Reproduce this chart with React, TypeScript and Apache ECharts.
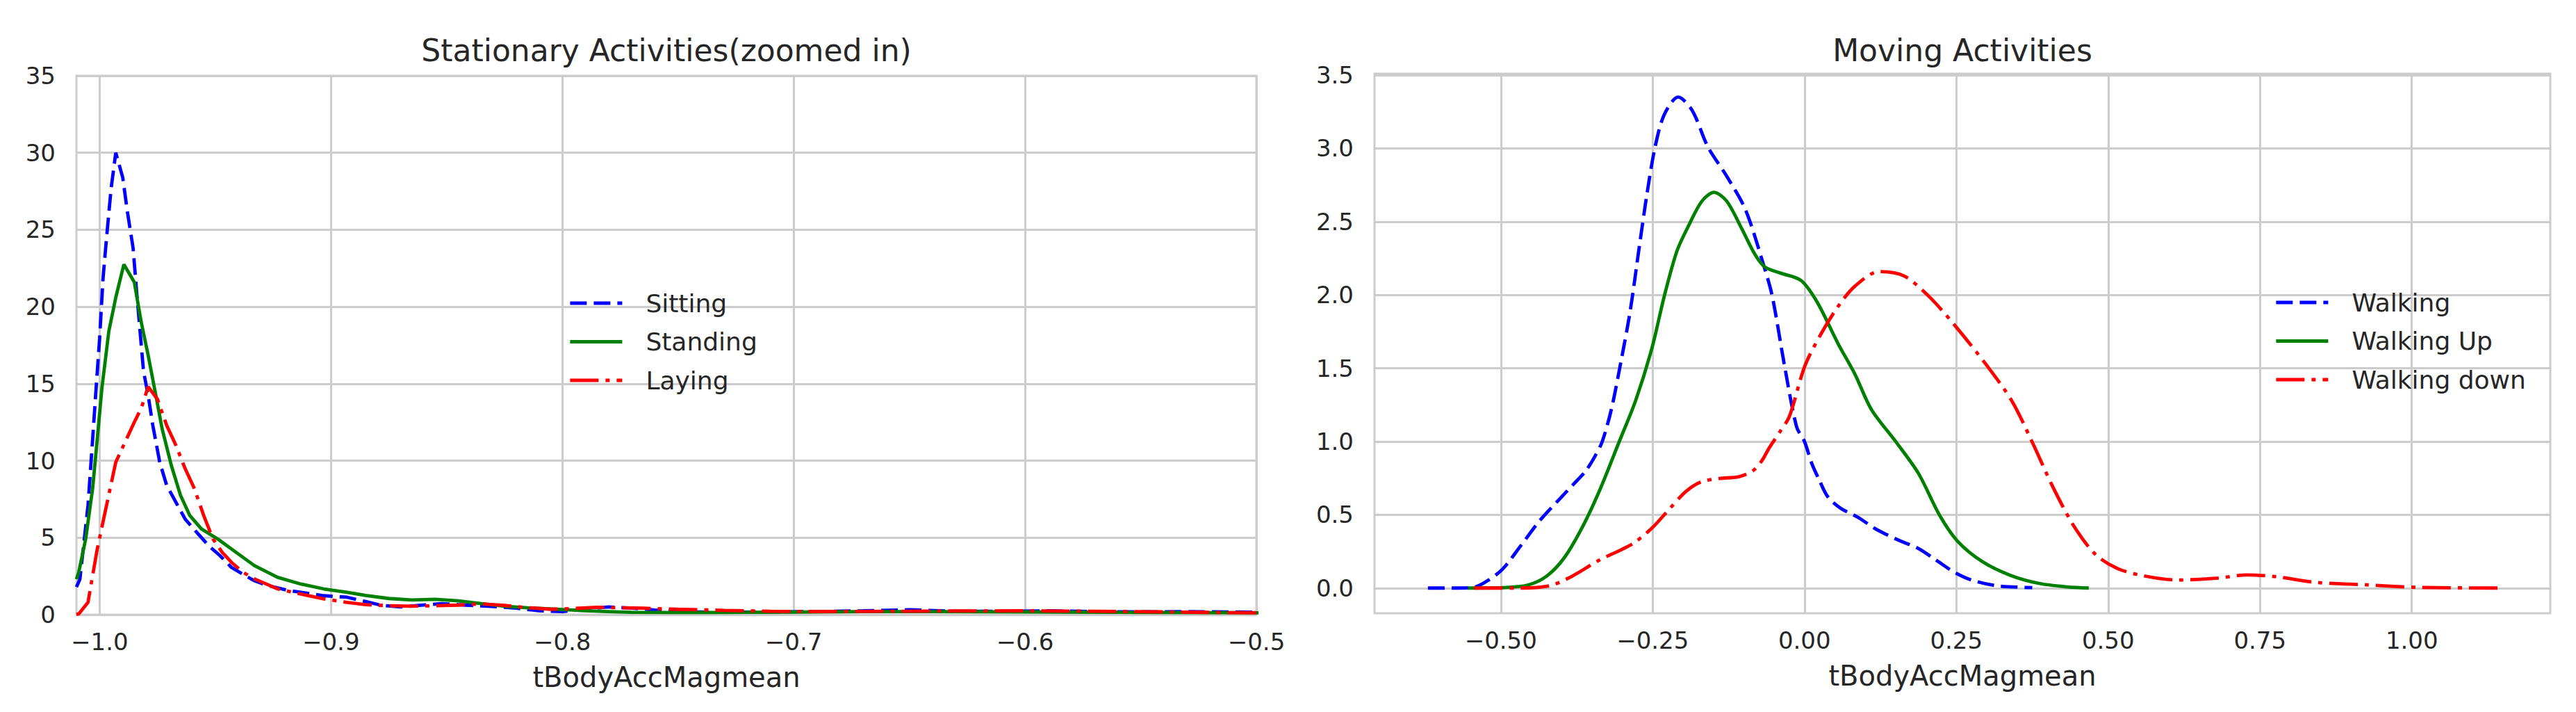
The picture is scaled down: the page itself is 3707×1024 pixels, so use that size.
import React, { useEffect, useRef } from "react";
import * as echarts from "echarts";

// ---------- data ----------
const stationaryNames = ["Sitting", "Standing", "Laying"];
const movingNames = ["Walking", "Walking Up", "Walking down"];

const sitting: [number, number][] = [
  [-1.01, 1.8], [-1.0085, 2.3], [-1.005, 7.1], [-1.003, 11.4], [-1.0015, 14.7], [-1.0, 17.9],
  [-0.9985, 21.85], [-0.997, 24.45], [-0.995, 27.7], [-0.993, 30.0], [-0.99, 28.4], [-0.988, 26.2],
  [-0.9855, 23.8], [-0.984, 21.0], [-0.9825, 18.4], [-0.981, 15.8], [-0.979, 14.25], [-0.977, 12.3],
  [-0.974, 9.9], [-0.971, 8.4], [-0.967, 7.3], [-0.963, 6.2], [-0.958, 5.35], [-0.953, 4.5],
  [-0.948, 3.84], [-0.943, 3.07], [-0.937, 2.53], [-0.933, 2.2], [-0.927, 1.88], [-0.918, 1.56],
  [-0.903, 1.23], [-0.893, 1.13], [-0.885, 0.85], [-0.878, 0.6], [-0.87, 0.5], [-0.862, 0.6],
  [-0.852, 0.72], [-0.842, 0.62], [-0.832, 0.55], [-0.82, 0.42], [-0.81, 0.25], [-0.8, 0.2],
  [-0.79, 0.35], [-0.78, 0.5], [-0.77, 0.42], [-0.76, 0.3], [-0.75, 0.2], [-0.73, 0.15],
  [-0.71, 0.18], [-0.69, 0.2], [-0.67, 0.25], [-0.65, 0.32], [-0.63, 0.22], [-0.61, 0.22],
  [-0.59, 0.25], [-0.57, 0.2], [-0.55, 0.18], [-0.53, 0.2], [-0.51, 0.17], [-0.49, 0.15],
];

const standing: [number, number][] = [
  [-1.01, 2.3], [-1.009, 2.75], [-1.006, 4.92], [-1.003, 8.2], [-1.001, 11.4], [-0.999, 14.7],
  [-0.996, 18.4], [-0.993, 20.6], [-0.9895, 22.75], [-0.985, 21.6], [-0.982, 19.0], [-0.979, 16.85],
  [-0.976, 14.5], [-0.973, 12.1], [-0.969, 9.7], [-0.965, 7.74], [-0.961, 6.44], [-0.956, 5.57],
  [-0.949, 4.92], [-0.941, 4.05], [-0.933, 3.18], [-0.923, 2.42], [-0.913, 1.99], [-0.903, 1.67],
  [-0.893, 1.45], [-0.885, 1.25], [-0.875, 1.05], [-0.865, 0.95], [-0.855, 1.0], [-0.845, 0.9],
  [-0.835, 0.72], [-0.825, 0.55], [-0.815, 0.45], [-0.8, 0.33], [-0.79, 0.25], [-0.78, 0.2],
  [-0.77, 0.15], [-0.75, 0.14], [-0.72, 0.15], [-0.7, 0.17], [-0.67, 0.2], [-0.64, 0.2],
  [-0.6, 0.18], [-0.56, 0.15], [-0.52, 0.13], [-0.49, 0.12],
];

const laying: [number, number][] = [
  [-1.01, 0.02], [-1.009, 0.05], [-1.005, 0.8], [-1.001, 4.27], [-0.997, 7.09], [-0.993, 9.9],
  [-0.989, 11.2], [-0.985, 12.5], [-0.982, 13.4], [-0.979, 14.8], [-0.975, 14.0], [-0.971, 12.3],
  [-0.967, 11.0], [-0.963, 9.48], [-0.959, 8.18], [-0.955, 6.44], [-0.951, 4.92], [-0.947, 4.05],
  [-0.943, 3.4], [-0.938, 2.75], [-0.933, 2.32], [-0.923, 1.67], [-0.913, 1.34], [-0.903, 1.02],
  [-0.893, 0.8], [-0.885, 0.65], [-0.875, 0.58], [-0.865, 0.55], [-0.855, 0.58], [-0.845, 0.62],
  [-0.835, 0.7], [-0.825, 0.6], [-0.815, 0.45], [-0.805, 0.35], [-0.795, 0.4], [-0.785, 0.48],
  [-0.775, 0.45], [-0.765, 0.42], [-0.75, 0.35], [-0.73, 0.28], [-0.71, 0.22], [-0.69, 0.2],
  [-0.66, 0.22], [-0.63, 0.24], [-0.6, 0.25], [-0.57, 0.22], [-0.54, 0.18], [-0.51, 0.13],
  [-0.49, 0.12],
];

const walking: [number, number][] = [
  [-0.62, 0.0], [-0.579, 0.0], [-0.544, 0.006], [-0.523, 0.047], [-0.497, 0.13], [-0.467, 0.29],
  [-0.436, 0.46], [-0.405, 0.6], [-0.38, 0.71], [-0.36, 0.8], [-0.345, 0.9], [-0.333, 1.0],
  [-0.318, 1.22], [-0.302, 1.55], [-0.287, 1.89], [-0.272, 2.33], [-0.259, 2.7], [-0.246, 3.01],
  [-0.231, 3.23], [-0.208, 3.35], [-0.185, 3.26], [-0.159, 3.01], [-0.128, 2.81], [-0.097, 2.58],
  [-0.067, 2.2], [-0.053, 1.99], [-0.033, 1.52], [-0.013, 1.1], [0.0, 1.0], [0.012, 0.85],
  [0.024, 0.74], [0.038, 0.625], [0.059, 0.546], [0.088, 0.483], [0.117, 0.404], [0.152, 0.332],
  [0.188, 0.269], [0.217, 0.19], [0.246, 0.11], [0.275, 0.055], [0.316, 0.016], [0.375, 0.003],
];

const walkingUp: [number, number][] = [
  [-0.554, 0.0], [-0.497, 0.003], [-0.456, 0.02], [-0.425, 0.08], [-0.395, 0.21], [-0.364, 0.43],
  [-0.336, 0.68], [-0.305, 1.0], [-0.278, 1.28], [-0.251, 1.64], [-0.231, 1.99], [-0.21, 2.3],
  [-0.19, 2.48], [-0.169, 2.64], [-0.149, 2.7], [-0.128, 2.64], [-0.103, 2.45], [-0.082, 2.28],
  [-0.065, 2.19], [-0.04, 2.15], [-0.006, 2.1], [0.021, 1.95], [0.055, 1.67], [0.083, 1.46],
  [0.11, 1.22], [0.152, 0.99], [0.188, 0.78], [0.222, 0.5], [0.252, 0.32], [0.293, 0.18],
  [0.339, 0.087], [0.386, 0.032], [0.433, 0.008], [0.468, 0.0],
];

const walkingDown: [number, number][] = [
  [-0.544, 0.0], [-0.467, 0.0], [-0.42, 0.015], [-0.384, 0.078], [-0.338, 0.19], [-0.3, 0.265],
  [-0.28, 0.31], [-0.251, 0.41], [-0.221, 0.546], [-0.195, 0.66], [-0.17, 0.725], [-0.14, 0.748],
  [-0.108, 0.76], [-0.085, 0.8], [-0.07, 0.87], [-0.058, 0.957], [-0.04, 1.07], [-0.025, 1.17],
  [0.001, 1.52], [0.028, 1.74], [0.055, 1.92], [0.083, 2.06], [0.123, 2.16], [0.164, 2.13],
  [0.205, 1.99], [0.246, 1.8], [0.3, 1.52], [0.341, 1.28], [0.374, 1.005], [0.409, 0.69],
  [0.444, 0.42], [0.479, 0.23], [0.515, 0.134], [0.558, 0.084], [0.613, 0.055], [0.681, 0.068],
  [0.728, 0.09], [0.776, 0.078], [0.844, 0.038], [0.926, 0.022], [1.007, 0.005], [1.143, 0.0],
];

const leftXTicks = [-1.0, -0.9, -0.8, -0.7, -0.6, -0.5];
const leftYTicks = [0, 5, 10, 15, 20, 25, 30, 35];
const rightXTicks = [-0.5, -0.25, 0, 0.25, 0.5, 0.75, 1.0];
const rightYTicks = [0, 0.5, 1.0, 1.5, 2.0, 2.5, 3.0, 3.5];

const titles = ["Stationary Activities(zoomed in)", "Moving Activities"];
const xAxisName = "tBodyAccMagmean";

// ---------- layout / style ----------
const FONT = "DejaVu Sans";
const TEXT = "#262626";
const GRIDC = "#cccccc";
const G0 = { left: 110, top: 109, width: 1698, height: 775 };
const G1 = { left: 1978, top: 106, width: 1692, height: 776 };
const LINE_W = 4.8;
const DASHED = [24, 10];
const DASHDOT = [41, 10, 6, 10];
const COLORS = ["#0000ff", "#008000", "#ff0000"];
const TYPES: any[] = [DASHED, "solid", DASHDOT];

const fmt = (v: number, d: number) =>
  (v < -1e-9 ? "\u2212" : "") + Math.abs(v).toFixed(d);

function xAxis(gridIndex: number, min: number, max: number, ticks: number[], d: number) {
  return {
    gridIndex,
    type: "value",
    min,
    max,
    name: xAxisName,
    nameLocation: "middle",
    nameGap: 70,
    nameTextStyle: { fontSize: 40, color: TEXT, fontFamily: FONT },
    axisLine: { show: false },
    axisTick: { show: false, customValues: ticks },
    axisLabel: {
      customValues: ticks,
      formatter: (v: number) => fmt(v, d),
      fontSize: 34,
      color: TEXT,
      fontFamily: FONT,
      margin: 22,
    },
    splitLine: { show: true, lineStyle: { color: GRIDC, width: 3 } },
  };
}

function yAxis(gridIndex: number, min: number, max: number, ticks: number[], d: number) {
  return {
    gridIndex,
    type: "value",
    min,
    max,
    axisLine: { show: false },
    axisTick: { show: false, customValues: ticks },
    axisLabel: {
      customValues: ticks,
      formatter: (v: number) => fmt(v, d),
      fontSize: 34,
      color: TEXT,
      fontFamily: FONT,
      margin: 30,
    },
    splitLine: { show: true, lineStyle: { color: GRIDC, width: 3 } },
  };
}

function series(name: string, data: [number, number][], idx: number, axis: number, smooth: any) {
  return {
    name,
    type: "line",
    xAxisIndex: axis,
    yAxisIndex: axis,
    data,
    symbol: "none",
    showSymbol: false,
    smooth,
    clip: true,
    lineStyle: { color: COLORS[idx], width: LINE_W, type: TYPES[idx] },
    itemStyle: { color: COLORS[idx] },
    emphasis: { disabled: true },
  };
}

function legend(names: string[], left: number, top: number) {
  return {
    orient: "vertical",
    left,
    top,
    data: names,
    selectedMode: false,
    itemWidth: 75,
    itemHeight: 14,
    itemGap: 15.5,
    padding: 0,
    itemStyle: { opacity: 0, borderWidth: 0, color: "rgba(0,0,0,0)" },
    lineStyle: { width: LINE_W },
    textStyle: {
      fontSize: 36,
      color: TEXT,
      fontFamily: FONT,
      lineHeight: 40,
      padding: [0, 0, 0, 29],
    },
  };
}

export default function App() {
  const ref = useRef<HTMLDivElement>(null);
  useEffect(() => {
    if (!ref.current) return;
    const chart = echarts.init(ref.current, undefined, { renderer: "svg" });
    const gridCommon = {
      show: true,
      borderColor: GRIDC,
      borderWidth: 3,
      backgroundColor: "transparent",
      containLabel: false,
      outerBoundsMode: "none",
    };
    chart.setOption({
      animation: false,
      backgroundColor: "#ffffff",
      grid: [
        { ...gridCommon, ...G0 },
        { ...gridCommon, ...G1 },
      ],
      xAxis: [
        xAxis(0, -1.01, -0.5, leftXTicks, 1),
        xAxis(1, -0.708, 1.228, rightXTicks, 2),
      ],
      yAxis: [
        yAxis(0, 0, 35, leftYTicks, 0),
        yAxis(1, -0.172, 3.51, rightYTicks, 1),
      ],
      legend: [legend(stationaryNames, 818, 416), legend(movingNames, 3273, 415)],
      graphic: [
        {
          type: "text",
          x: G0.left + G0.width / 2,
          y: 72,
          style: {
            text: titles[0],
            fontSize: 44,
            fontFamily: FONT,
            fill: TEXT,
            align: "center",
            verticalAlign: "middle",
          },
        },
        {
          type: "text",
          x: G1.left + G1.width / 2,
          y: 72,
          style: {
            text: titles[1],
            fontSize: 44,
            fontFamily: FONT,
            fill: TEXT,
            align: "center",
            verticalAlign: "middle",
          },
        },
      ],
      series: [
        series(stationaryNames[0], sitting, 0, 0, false),
        series(stationaryNames[1], standing, 1, 0, false),
        series(stationaryNames[2], laying, 2, 0, false),
        series(movingNames[0], walking, 0, 1, 0.3),
        series(movingNames[1], walkingUp, 1, 1, 0.3),
        series(movingNames[2], walkingDown, 2, 1, 0.3),
      ],
    });
    return () => chart.dispose();
  }, []);
  return (
    <div
      ref={ref}
      style={{ position: "fixed", left: 0, top: 0, width: 3707, height: 1024, background: "#fff" }}
    />
  );
}
